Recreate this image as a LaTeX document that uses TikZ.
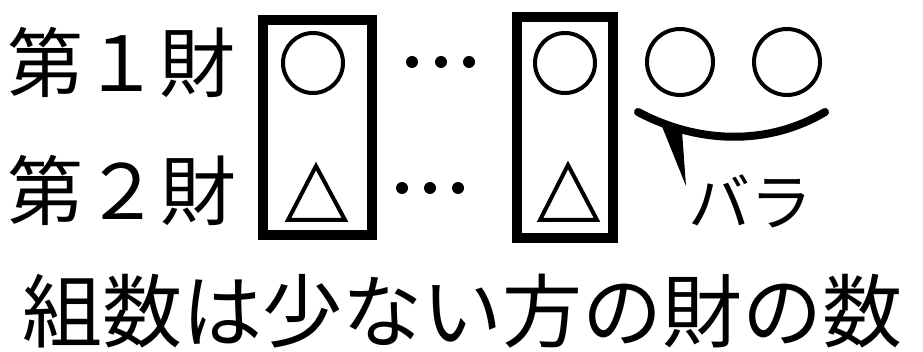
\documentclass[tikz,border=0pt]{standalone}
\usepackage{fontspec}
\newfontfamily\jp{Noto Sans CJK JP}
\begin{document}
\begin{tikzpicture}[x=1pt,y=-1pt,
  rowlbl/.style={font=\jp\fontsize{76}{76}\selectfont, inner sep=0pt},
  bigtxt/.style={font=\jp\fontsize{80}{80}\selectfont, inner sep=0pt},
  smalltxt/.style={font=\jp\fontsize{62}{62}\selectfont, inner sep=0pt},
  pairbox/.style={draw, line width=10pt, inner sep=0pt},
  ring/.style={draw, circle, line width=4pt, minimum size=60pt, inner sep=0pt},
  bigring/.style={draw, circle, line width=4pt, minimum size=66pt, inner sep=0pt},
  dotc/.style={fill, circle, minimum size=12pt, inner sep=0pt},
  tri/.style={line width=4pt, line join=miter}]
\useasboundingbox (0,0) rectangle (923,352);
% row labels
\node[rowlbl] (r1) at (121,62) {第１財};
\node[rowlbl] (r2) at (122,190) {第２財};
% boxes
\node[pairbox, minimum width=109pt, minimum height=215pt] (b1) at (317.5,127.5) {};
\node[pairbox, minimum width=96pt, minimum height=221pt] (b2) at (565,127.5) {};
% circles
\node[ring] (c1) at (313,63) {};
\node[ring] (c2) at (565,63) {};
\node[bigring] (c3) at (680,62) {};
\node[bigring] (c4) at (787,62) {};
% triangles
\draw[tri] (288,220) -- (316,166) -- (345,220) -- cycle;
\draw[tri] (540,220) -- (568,165) -- (597,220) -- cycle;
% dots
\node[dotc] (d1) at (412,62) {};
\node[dotc] (d2) at (441,62) {};
\node[dotc] (d3) at (469,62) {};
\node[dotc] (d4) at (402,188) {};
\node[dotc] (d5) at (430,188) {};
\node[dotc] (d6) at (458,188) {};
% smile and callout
\coordinate (sl) at (638,112);
\coordinate (sr) at (825,112);
\draw[line width=8pt, line cap=round] (sl) .. controls (700,145) and (770,145) .. (sr);
\node[smalltxt] (bara) at (750,201) {バラ};
\fill (659,119) -- (682,131) -- (686,186) -- cycle;
% bottom text
\node[bigtxt] (bt) at (462,311) {組数は少ない方の財の数};
\end{tikzpicture}
\end{document}
